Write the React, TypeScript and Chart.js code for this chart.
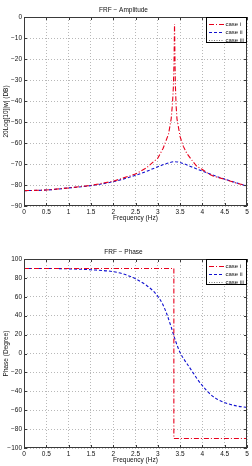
import React, { useEffect, useRef } from 'react';
import { Chart, registerables } from 'chart.js';

Chart.register(...registerables);

// ---------- data ----------
const caseLabels = ['case i', 'case ii', 'case iii'];

// Amplitude (dB)
const ampFreqI = [0, 0.5, 1, 1.5, 2, 2.5, 2.75, 2.9, 3.0, 3.12, 3.24, 3.3, 3.33, 3.35, 3.365, 3.375, 3.385, 3.395, 3.41, 3.43, 3.5, 3.57, 3.65, 3.75, 3.87, 4.0, 4.13, 4.25, 4.5, 4.75, 5];
const ampCaseI = [-82.7, -82.4, -81.4, -80.2, -78.2, -74.8, -71.8, -69.0, -67.2, -62.5, -55.8, -48.5, -41, -33, -20, -3.3, -20, -33, -42, -48.5, -57, -61.5, -64.9, -67.8, -71.0, -72.6, -74.6, -75.8, -77.3, -79.0, -80.5];
const ampFreqII = [0, 0.5, 1, 1.5, 2, 2.5, 2.75, 3.0, 3.2, 3.37, 3.5, 3.75, 4.0, 4.25, 4.5, 4.75, 5];
const ampCaseII = [-82.7, -82.4, -81.4, -80.3, -78.4, -75.4, -73.5, -71.3, -69.8, -68.9, -69.3, -71.3, -73.4, -75.4, -77.2, -78.9, -80.5];
const ampFreqIII: number[] = [];
const ampCaseIII: number[] = [];

// Phase (degree)
const phaseFreqI = [0, 3.36, 3.36, 5];
const phaseCaseI = [90, 90, -90, -90];
const phaseFreqII = [0, 0.5, 1, 1.5, 2, 2.25, 2.5, 2.75, 2.9, 3.0, 3.1, 3.2, 3.3, 3.4, 3.5, 3.6, 3.7, 3.8, 3.9, 4.0, 4.1, 4.2, 4.3, 4.4, 4.6, 4.8, 5.0];
const phaseCaseII = [90, 90, 89.6, 88.6, 86.6, 83.8, 79.0, 72.0, 66.0, 60.5, 53.0, 42.0, 28.0, 13.0, 1.0, -7.0, -14.0, -21.0, -28.0, -34.0, -39.5, -44.0, -47.5, -50.0, -53.5, -55.8, -57.0];
const phaseFreqIII: number[] = [];
const phaseCaseIII: number[] = [];

const freqMin = 0;
const freqMax = 5;
const freqStep = 0.5;
const ampMin = -90;
const ampMax = 0;
const ampStep = 10;
const phaseMin = -100;
const phaseMax = 100;
const phaseStep = 20;

// ---------- helpers ----------
const FONT = "'Liberation Sans', Arial, Helvetica, sans-serif";
const FS = 6.5;
const TXT = '#111';

const toPoints = (xs: number[], ys: number[]) => xs.map((x, i) => ({ x, y: ys[i] }));
const fmt = (v: number) => (v < 0 ? '\u2212' + Math.abs(v) : String(v));

const seriesStyle = [
  { borderColor: '#e8001c', borderDash: [5, 2, 1, 2] },
  { borderColor: '#1010d0', borderDash: [3, 2] },
  { borderColor: '#777777', borderDash: [1, 1.5] },
];

const framePlugin = {
  id: 'frame',
  afterDatasetsDraw(chart: any) {
    const { ctx, chartArea: a, scales } = chart;
    ctx.save();
    ctx.setLineDash([]);
    ctx.strokeStyle = '#3a3a3a';
    ctx.lineWidth = 1;
    ctx.strokeRect(a.left + 0.5, a.top + 0.5, a.right - a.left - 1, a.bottom - a.top - 1);
    const tl = 3;
    ctx.beginPath();
    scales.x.ticks.forEach((t: any) => {
      const px = Math.round(scales.x.getPixelForValue(t.value)) + 0.5;
      ctx.moveTo(px, a.bottom);
      ctx.lineTo(px, a.bottom - tl);
      ctx.moveTo(px, a.top);
      ctx.lineTo(px, a.top + tl);
    });
    scales.y.ticks.forEach((t: any) => {
      const py = Math.round(scales.y.getPixelForValue(t.value)) + 0.5;
      ctx.moveTo(a.left, py);
      ctx.lineTo(a.left + tl, py);
      ctx.moveTo(a.right, py);
      ctx.lineTo(a.right - tl, py);
    });
    ctx.stroke();

    // legend (inside, top-right)
    const bw = 41;
    const bh = 26;
    const bx = a.right - bw;
    const by = a.top;
    ctx.fillStyle = '#ffffff';
    ctx.fillRect(bx, by, bw, bh);
    ctx.strokeStyle = '#000000';
    ctx.lineWidth = 1;
    ctx.strokeRect(bx + 0.5, by + 0.5, bw - 1, bh - 1);
    ctx.font = `6px ${FONT}`;
    ctx.textBaseline = 'middle';
    ctx.textAlign = 'left';
    chart.data.datasets.forEach((ds: any, i: number) => {
      const y = by + 6.5 + i * 8.2;
      ctx.save();
      ctx.strokeStyle = ds.borderColor;
      ctx.lineWidth = ds.borderWidth || 1;
      ctx.setLineDash(ds.borderDash || []);
      ctx.beginPath();
      ctx.moveTo(bx + 3, Math.round(y) + 0.5);
      ctx.lineTo(bx + 18, Math.round(y) + 0.5);
      ctx.stroke();
      ctx.restore();
      ctx.fillStyle = TXT;
      ctx.fillText(ds.label, bx + 19.5, y + 0.5);
    });
    ctx.restore();
  },
};

function makeConfig(opts: {
  title: string;
  yTitle: string;
  yMin: number;
  yMax: number;
  yStep: number;
  datasets: any[];
  titlePad: { top: number; bottom: number };
  xHeight: number;
  xTitleBottom: number;
}) {
  const font = { family: FONT, size: FS, weight: 'normal' as const };
  return {
    type: 'line' as const,
    data: { datasets: opts.datasets },
    plugins: [framePlugin],
    options: {
      responsive: false,
      animation: false as const,
      layout: { padding: { left: 0, right: 5, top: 0, bottom: 0 } },
      plugins: {
        legend: { display: false },
        tooltip: { enabled: false },
        title: {
          display: true,
          text: opts.title,
          color: TXT,
          font,
          padding: opts.titlePad,
        },
      },
      elements: { point: { radius: 0 } },
      scales: {
        x: {
          type: 'linear' as const,
          min: freqMin,
          max: freqMax,
          ticks: {
            stepSize: freqStep,
            autoSkip: false,
            maxRotation: 0,
            padding: 2,
            color: TXT,
            font,
            callback: (v: any) => fmt(Number(v)),
          },
          grid: { color: '#b8b8b8', lineWidth: 1, drawTicks: false },
          border: { display: false, dash: [1, 2] },
          title: {
            display: true,
            text: 'Frequency (Hz)',
            color: TXT,
            font,
            padding: { top: 0, bottom: opts.xTitleBottom },
          },
          afterFit: (s: any) => {
            s.height = opts.xHeight;
          },
        },
        y: {
          type: 'linear' as const,
          min: opts.yMin,
          max: opts.yMax,
          ticks: {
            stepSize: opts.yStep,
            autoSkip: false,
            padding: 2,
            color: TXT,
            font,
            callback: (v: any) => fmt(Number(v)),
          },
          grid: { color: '#b8b8b8', lineWidth: 1, drawTicks: false },
          border: { display: false, dash: [1, 2] },
          title: {
            display: true,
            text: opts.yTitle,
            color: TXT,
            font,
            padding: { top: 2.1, bottom: 0 },
          },
          afterFit: (s: any) => {
            s.width = 24;
          },
        },
      },
    },
  };
}

function buildDatasets(xsList: number[][], ysList: number[][], smooth: boolean[]) {
  return caseLabels.map((label, i) => ({
    label,
    data: toPoints(xsList[i], ysList[i]),
    borderColor: seriesStyle[i].borderColor,
    borderDash: seriesStyle[i].borderDash,
    borderWidth: 1.1,
    pointRadius: 0,
    fill: false,
    tension: 0,
    cubicInterpolationMode: smooth[i] ? ('monotone' as const) : ('default' as const),
  }));
}

export default function App() {
  const topRef = useRef<HTMLCanvasElement | null>(null);
  const botRef = useRef<HTMLCanvasElement | null>(null);

  useEffect(() => {
    const charts: Chart[] = [];
    if (topRef.current) {
      charts.push(
        new Chart(
          topRef.current,
          makeConfig({
            title: 'FRF \u2212 Amplitude',
            yTitle: '20Log[10]|w| (DB)',
            yMin: ampMin,
            yMax: ampMax,
            yStep: ampStep,
            datasets: buildDatasets(
              [ampFreqI, ampFreqII, ampFreqIII],
              [ampCaseI, ampCaseII, ampCaseIII],
              [false, true, true]
            ),
            titlePad: { top: 6, bottom: 3.2 },
            xHeight: 27,
            xTitleBottom: 10.4,
          }) as any
        )
      );
    }
    if (botRef.current) {
      charts.push(
        new Chart(
          botRef.current,
          makeConfig({
            title: 'FRF \u2212 Phase',
            yTitle: 'Phase (Degree)',
            yMin: phaseMin,
            yMax: phaseMax,
            yStep: phaseStep,
            datasets: buildDatasets(
              [phaseFreqI, phaseFreqII, phaseFreqIII],
              [phaseCaseI, phaseCaseII, phaseCaseIII],
              [false, true, true]
            ),
            titlePad: { top: 15.1, bottom: 3.1 },
            xHeight: 18,
            xTitleBottom: 1.8,
          }) as any
        )
      );
    }
    return () => charts.forEach((c) => c.destroy());
  }, []);

  return (
    <div style={{ position: 'fixed', left: 0, top: 0, width: 252, height: 466, background: '#fff' }}>
      <canvas ref={topRef} width={252} height={233} style={{ display: 'block', width: 252, height: 233 }} />
      <canvas ref={botRef} width={252} height={233} style={{ display: 'block', width: 252, height: 233 }} />
    </div>
  );
}
